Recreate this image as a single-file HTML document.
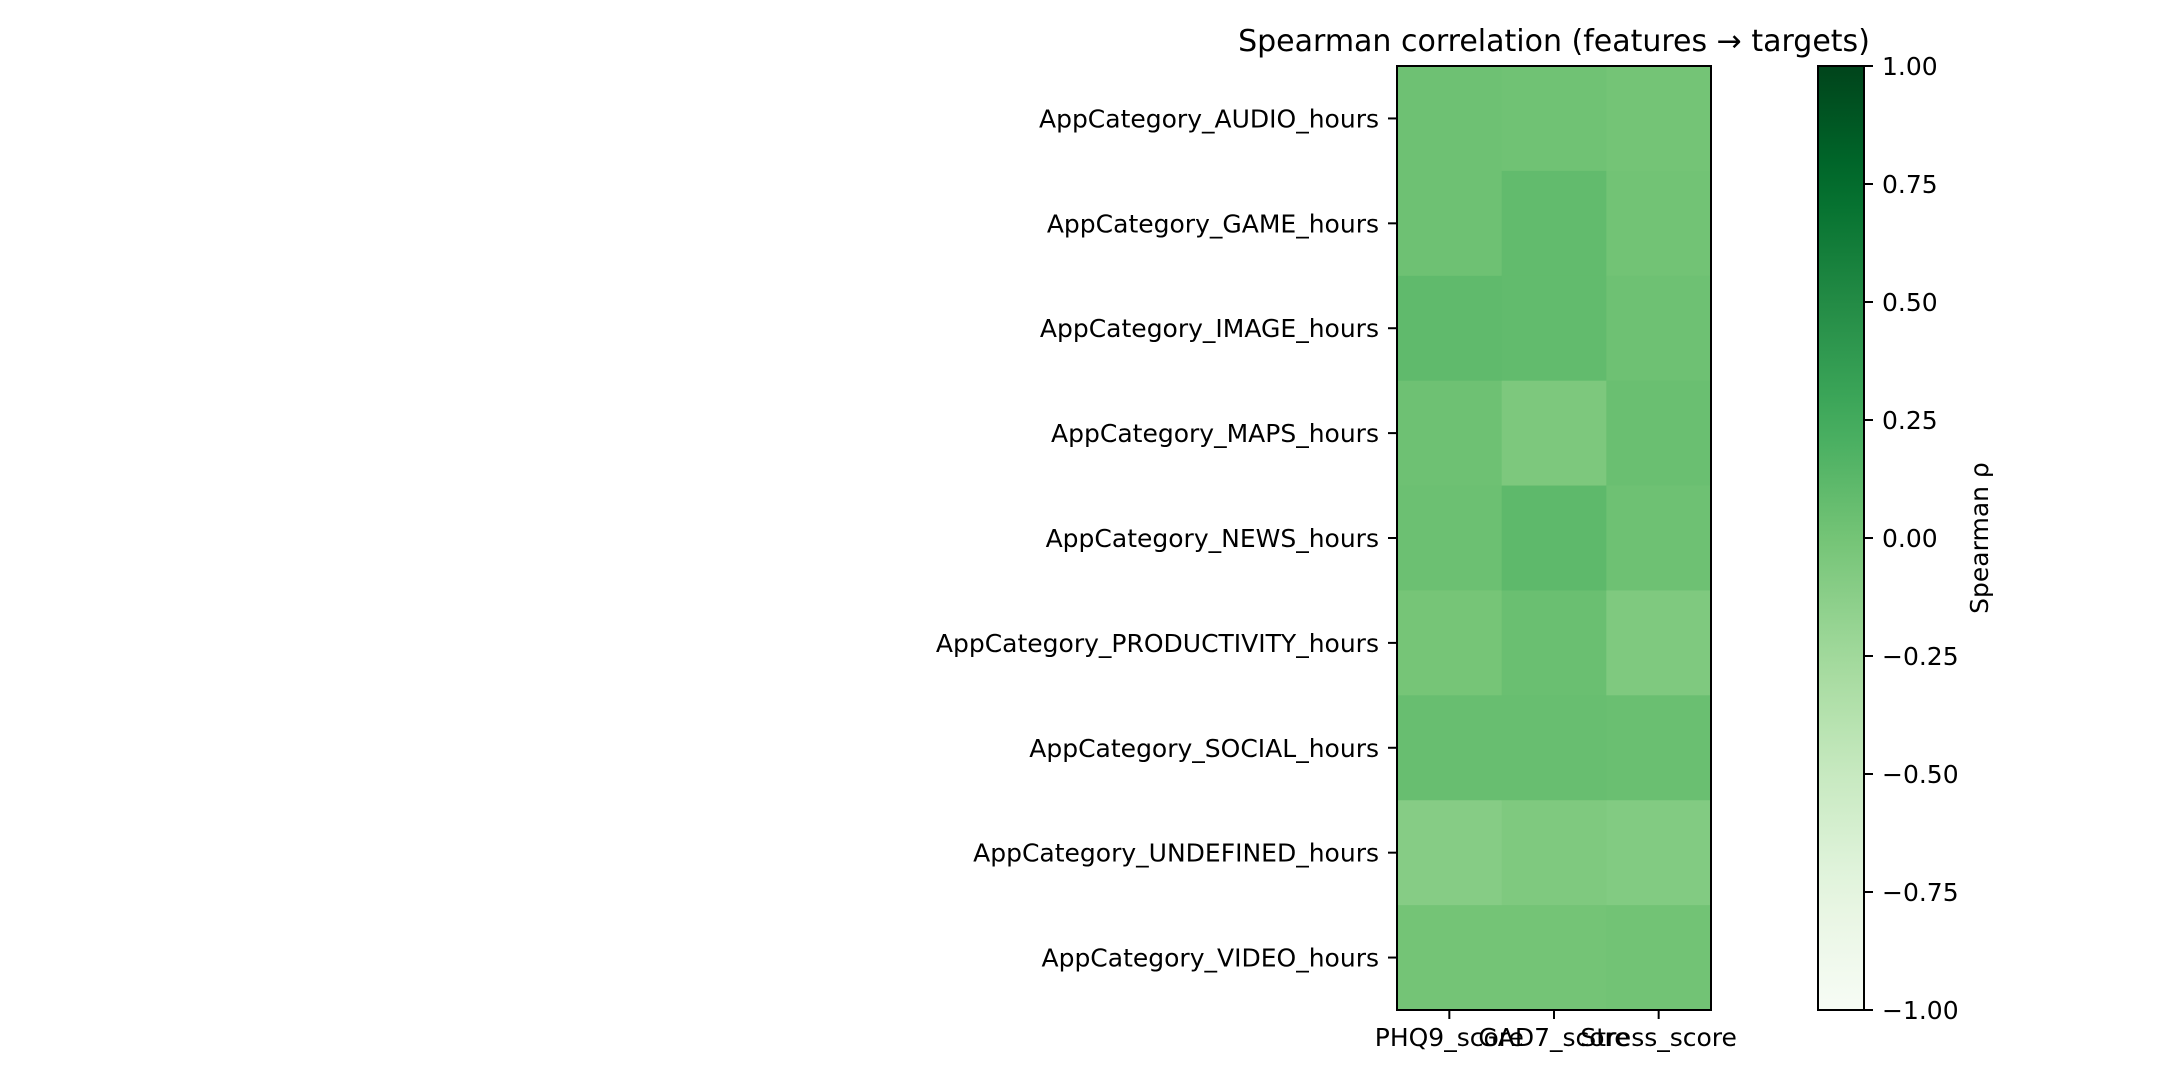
<!DOCTYPE html>
<html><head><meta charset="utf-8"><style>
html,body{margin:0;padding:0;background:#fff}
svg{display:block;font-family:"DejaVu Sans","Liberation Sans",sans-serif}
</style></head><body>
<svg id="chart" width="2160" height="1080" viewBox="0 0 2160 1080"></svg>
<script>
const rowLabels=["AppCategory_AUDIO_hours","AppCategory_GAME_hours","AppCategory_IMAGE_hours","AppCategory_MAPS_hours","AppCategory_NEWS_hours","AppCategory_PRODUCTIVITY_hours","AppCategory_SOCIAL_hours","AppCategory_UNDEFINED_hours","AppCategory_VIDEO_hours"];
const colLabels=["PHQ9_score","GAD7_score","Stress_score"];
const phq9Values=[0.03,0.03,0.10,0.03,0.04,-0.01,0.06,-0.10,0.00];
const gad7Values=[0.02,0.09,0.09,-0.05,0.11,0.05,0.06,-0.06,0.00];
const stressValues=[0.00,0.01,0.03,0.05,0.03,-0.06,0.05,-0.08,0.01];
const cbarTicks=[1.00,0.75,0.50,0.25,0.00,-0.25,-0.50,-0.75,-1.00];

const series=[phq9Values,gad7Values,stressValues];
const NS="http://www.w3.org/2000/svg";
const svg=document.getElementById('chart');
const L=1397,R=1711,T=66,B=1010;
const cw=(R-L)/colLabels.length, rh=(B-T)/rowLabels.length;
const CX0=1818,CX1=1864;
const FS=25;
const stops=["#f7fcf5","#e5f5e0","#c7e9c0","#a1d99b","#74c476","#41ab5d","#238b45","#006d2c","#00441b"].map(h=>[1,3,5].map(i=>parseInt(h.substr(i,2),16)));
function greens(v){let t=(v+1)/2;t=Math.max(0,Math.min(1,t));const p=t*(stops.length-1);const i=Math.min(Math.floor(p),stops.length-2);const f=p-i;const a=stops[i],b=stops[i+1];return `rgb(${a.map((c,k)=>Math.round(c+(b[k]-c)*f)).join(',')})`;}
const xPos=j=>L+cw*(j+0.5);
const yPos=i=>T+rh*(i+0.5);
const cbY=v=>B-(v+1)/2*(B-T);
function el(tag,attrs,txt){const e=document.createElementNS(NS,tag);for(const k in attrs)e.setAttribute(k,attrs[k]);if(txt!==undefined)e.textContent=txt;svg.appendChild(e);return e;}

for(let j=0;j<colLabels.length;j++){
  for(let i=0;i<rowLabels.length;i++){
    const r=el('rect',{x:L+cw*j,y:T+rh*i,width:cw+0.5,height:rh+0.5,fill:greens(series[j][i])});
    
    
  }
}
const frame=el('rect',{x:L,y:T,width:R-L,height:B-T,fill:'none',stroke:'#000','stroke-width':2});



rowLabels.forEach((lab,i)=>{
  const y=yPos(i);
  const tk=el('line',{x1:L-9,x2:L,y1:y,y2:y,stroke:'#000','stroke-width':2});
  
  
  const t=el('text',{x:L-18,y:y+9,'text-anchor':'end','font-size':FS},lab);
  
  
});
colLabels.forEach((lab,j)=>{
  const x=xPos(j);
  const tk=el('line',{x1:x,x2:x,y1:B,y2:B+9,stroke:'#000','stroke-width':2});
  
  
  const t=el('text',{x:x,y:1046,'text-anchor':'middle','font-size':FS},lab);
  
  
});

const defs=el('defs',{});
const grad=document.createElementNS(NS,'linearGradient');
grad.setAttribute('id','cg');grad.setAttribute('x1','0');grad.setAttribute('y1','1');grad.setAttribute('x2','0');grad.setAttribute('y2','0');
for(let k=0;k<=20;k++){const s=document.createElementNS(NS,'stop');s.setAttribute('offset',k/20);s.setAttribute('stop-color',greens(-1+2*k/20));grad.appendChild(s);}
defs.appendChild(grad);
const cb=el('rect',{x:CX0,y:T,width:CX1-CX0,height:B-T,fill:'url(#cg)',stroke:'#000','stroke-width':2});


cbarTicks.forEach(v=>{
  const y=cbY(v);
  const tk=el('line',{x1:CX1,x2:CX1+9,y1:y,y2:y,stroke:'#000','stroke-width':2});
  
  
  const t=el('text',{x:CX1+18,y:y+9,'font-size':FS},(v<0?'\u2212':'')+Math.abs(v).toFixed(2));
  
  
});
const yl=el('text',{x:0,y:0,'font-size':FS,'text-anchor':'middle',transform:`translate(1988,${(T+B)/2}) rotate(-90)`},'Spearman \u03c1');


const title=el('text',{x:1554,y:51,'font-size':30,'text-anchor':'middle'},'Spearman correlation (features \u2192 targets)');


</script>
</body></html>
